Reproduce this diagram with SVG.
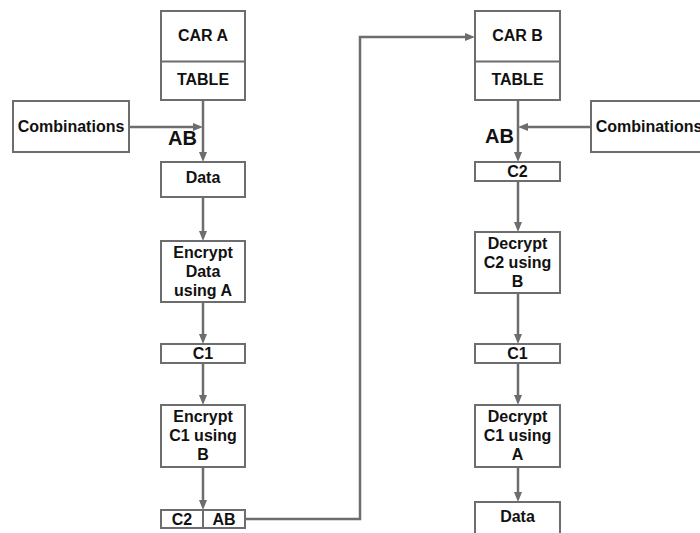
<svg xmlns="http://www.w3.org/2000/svg" width="700" height="533" viewBox="0 0 700 533">
<style>
.box{fill:#fff;stroke:#6d6d6d;stroke-width:2}
.t{font-family:"Liberation Sans",Arial,sans-serif;font-weight:bold;font-size:16px;fill:#111;text-anchor:middle}
.lbl{font-family:"Liberation Sans",Arial,sans-serif;font-weight:bold;font-size:20px;fill:#111;text-anchor:middle}
.c{fill:none;stroke:#6d6d6d;stroke-width:2.5}
</style>
<defs>
<marker id="ah" markerUnits="userSpaceOnUse" markerWidth="11" markerHeight="10" viewBox="0 0 11 10" refX="4" refY="5" orient="auto">
<path d="M0,1 L10,5 L0,9 z" fill="#6d6d6d"/>
</marker>
</defs>
<rect width="700" height="533" fill="#fff"/>

<g id="connectors">
<line class="c" x1="203" y1="101" x2="203" y2="156" marker-end="url(#ah)"/>
<line class="c" x1="130" y1="127" x2="197" y2="127" marker-end="url(#ah)"/>
<line class="c" x1="203" y1="197" x2="203" y2="235" marker-end="url(#ah)"/>
<line class="c" x1="203" y1="303" x2="203" y2="338" marker-end="url(#ah)"/>
<line class="c" x1="203" y1="363" x2="203" y2="399" marker-end="url(#ah)"/>
<line class="c" x1="203" y1="467" x2="203" y2="504" marker-end="url(#ah)"/>
<polyline class="c" points="246,519 360,519 360,37 469,37" marker-end="url(#ah)"/>
<line class="c" x1="518" y1="101" x2="518" y2="156" marker-end="url(#ah)"/>
<line class="c" x1="591" y1="127" x2="524" y2="127" marker-end="url(#ah)"/>
<line class="c" x1="518" y1="182" x2="518" y2="226" marker-end="url(#ah)"/>
<line class="c" x1="518" y1="294" x2="518" y2="338" marker-end="url(#ah)"/>
<line class="c" x1="518" y1="364" x2="518" y2="399" marker-end="url(#ah)"/>
<line class="c" x1="518" y1="467" x2="518" y2="496" marker-end="url(#ah)"/>
</g>

<g id="carA">
<rect class="box" x="161" y="11" width="84" height="89"/>
<line class="box" x1="161" y1="61.5" x2="245" y2="61.5"/>
<text class="t" x="203" y="40.5">CAR A</text>
<text class="t" x="203" y="84.5">TABLE</text>
</g>
<g id="combA">
<rect class="box" x="13" y="101" width="116" height="51"/>
<text class="t" x="71" y="132">Combinations</text>
</g>
<text class="lbl" x="182.5" y="145">AB</text>
<g id="dataA">
<rect class="box" x="161" y="162" width="84" height="35"/>
<text class="t" x="203" y="183">Data</text>
</g>
<g id="encA">
<rect class="box" x="161" y="241" width="84" height="61"/>
<text class="t" x="203" y="258">Encrypt</text>
<text class="t" x="203" y="277">Data</text>
<text class="t" x="203" y="296">using A</text>
</g>
<g id="c1A">
<rect class="box" x="161" y="344" width="84" height="19"/>
<text class="t" x="203" y="359">C1</text>
</g>
<g id="encB">
<rect class="box" x="161" y="405" width="84" height="62"/>
<text class="t" x="203" y="422">Encrypt</text>
<text class="t" x="203" y="441">C1 using</text>
<text class="t" x="203" y="460">B</text>
</g>
<g id="c2ab">
<rect class="box" x="161" y="510" width="84" height="18"/>
<line class="box" x1="203" y1="510" x2="203" y2="528"/>
<text class="t" x="182" y="525">C2</text>
<text class="t" x="224" y="525">AB</text>
</g>

<g id="carB">
<rect class="box" x="475" y="11" width="85" height="89"/>
<line class="box" x1="475" y1="61.5" x2="560" y2="61.5"/>
<text class="t" x="517.5" y="40.5">CAR B</text>
<text class="t" x="517.5" y="84.5">TABLE</text>
</g>
<g id="combB">
<rect class="box" x="591" y="101" width="116" height="51"/>
<text class="t" x="649" y="132">Combinations</text>
</g>
<text class="lbl" x="499.5" y="143">AB</text>
<g id="c2B">
<rect class="box" x="475" y="162" width="85" height="19"/>
<text class="t" x="517.5" y="177">C2</text>
</g>
<g id="decB">
<rect class="box" x="475" y="232" width="85" height="61"/>
<text class="t" x="517.5" y="249">Decrypt</text>
<text class="t" x="517.5" y="268">C2 using</text>
<text class="t" x="517.5" y="287">B</text>
</g>
<g id="c1B">
<rect class="box" x="475" y="344" width="85" height="19"/>
<text class="t" x="517.5" y="359">C1</text>
</g>
<g id="decA">
<rect class="box" x="475" y="405" width="85" height="62"/>
<text class="t" x="517.5" y="422">Decrypt</text>
<text class="t" x="517.5" y="441">C1 using</text>
<text class="t" x="517.5" y="460">A</text>
</g>
<g id="dataB">
<rect class="box" x="475" y="502" width="85" height="40"/>
<text class="t" x="517.5" y="522">Data</text>
</g>
</svg>
